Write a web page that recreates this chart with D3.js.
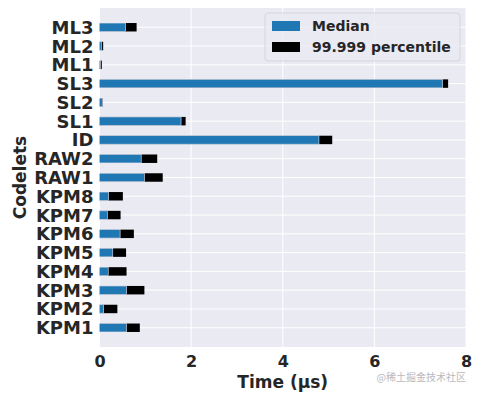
<!DOCTYPE html>
<html>
<head>
<meta charset="utf-8">
<script src="https://cdn.jsdelivr.net/npm/d3@7"></script>
<style>
  body { margin: 0; background: #fff; }
  text { font-family: "DejaVu Sans", sans-serif; font-weight: bold; fill: #262626; }
</style>
</head>
<body>
<div id="chart"></div>
<script>
const codelets = ["ML3", "ML2", "ML1", "SL3", "SL2", "SL1", "ID", "RAW2", "RAW1",
  "KPM8", "KPM7", "KPM6", "KPM5", "KPM4", "KPM3", "KPM2", "KPM1"];
const median = [0.57, 0.04, 0.02, 7.49, 0.06, 1.78, 4.79, 0.91, 0.98,
  0.2, 0.17, 0.45, 0.29, 0.19, 0.59, 0.09, 0.59];
const p99999 = [0.81, 0.08, 0.05, 7.61, 0.07, 1.88, 5.08, 1.26, 1.38,
  0.51, 0.46, 0.75, 0.58, 0.59, 0.98, 0.39, 0.88];
const xTicks = [0, 2, 4, 6, 8];

const width = 478, height = 395;
const margin = { top: 8, right: 12, bottom: 48, left: 99.5 };
const innerW = width - margin.left - margin.right;
const innerH = height - margin.top - margin.bottom;

const svg = d3.select("#chart").append("svg")
  .attr("width", width)
  .attr("height", height);

const g = svg.append("g")
  .attr("transform", "translate(" + margin.left + "," + margin.top + ")");

const x = d3.scaleLinear().domain([0, 8]).range([0, innerW]);
const y = d3.scaleBand().domain(codelets).range([0, innerH])
  .paddingInner(0.55).paddingOuter(0.8);

g.append("rect")
  .attr("width", innerW)
  .attr("height", innerH)
  .attr("fill", "#eaeaf2");

// grid
g.selectAll(".vgrid").data(xTicks).enter().append("line")
  .attr("x1", d => x(d)).attr("x2", d => x(d))
  .attr("y1", 0).attr("y2", innerH)
  .attr("stroke", "#fff").attr("stroke-width", 1);
g.selectAll(".hgrid").data(codelets).enter().append("line")
  .attr("x1", 0).attr("x2", innerW)
  .attr("y1", d => y(d) + y.bandwidth() / 2)
  .attr("y2", d => y(d) + y.bandwidth() / 2)
  .attr("stroke", "#fff").attr("stroke-width", 1);

const rows = codelets.map((c, i) => ({ name: c, med: median[i], p: p99999[i] }));

g.selectAll(".pbar").data(rows).enter().append("rect")
  .attr("x", 0)
  .attr("y", d => y(d.name))
  .attr("width", d => x(d.p))
  .attr("height", y.bandwidth())
  .attr("fill", "#000");

g.selectAll(".mbar").data(rows).enter().append("rect")
  .attr("x", 0)
  .attr("y", d => y(d.name))
  .attr("width", d => x(d.med))
  .attr("height", y.bandwidth())
  .attr("fill", "#1f77b4")
  .attr("stroke", "#eaeaf2")
  .attr("stroke-width", 0.6);

// axes
const xAxis = g.append("g")
  .attr("transform", "translate(0," + innerH + ")")
  .call(d3.axisBottom(x).tickValues(xTicks).tickSize(0).tickPadding(9));
xAxis.select(".domain").remove();
xAxis.selectAll("text").style("font-size", "16px").attr("fill", "#262626");

const yAxis = g.append("g")
  .call(d3.axisLeft(y).tickSize(0).tickPadding(6));
yAxis.select(".domain").remove();
yAxis.selectAll("text").style("font-size", "18px").attr("fill", "#262626")
  .attr("dy", "0.36em");

svg.append("text")
  .attr("x", margin.left + innerW / 2)
  .attr("y", 388)
  .attr("text-anchor", "middle")
  .style("font-size", "17px")
  .text("Time (μs)");

svg.append("text")
  .attr("transform", "translate(26," + (margin.top + innerH / 2) + ") rotate(-90)")
  .attr("text-anchor", "middle")
  .style("font-size", "17px")
  .text("Codelets");

// legend
const legend = svg.append("g").attr("transform", "translate(265,13)");
legend.append("rect")
  .attr("width", 195).attr("height", 48).attr("rx", 3)
  .attr("fill", "#eaeaf2").attr("fill-opacity", 0.8)
  .attr("stroke", "#d5d5dc").attr("stroke-width", 1);
const legendItems = [{ label: "Median", color: "#1f77b4" }, { label: "99.999 percentile", color: "#000" }];
const li = legend.selectAll(".li").data(legendItems).enter().append("g")
  .attr("transform", (d, i) => "translate(7," + (13 + i * 21) + ")");
li.append("rect").attr("x", 0).attr("y", -5).attr("width", 28).attr("height", 10)
  .attr("fill", d => d.color);
li.append("text").attr("x", 40).attr("y", 5)
  .style("font-size", "14px")
  .text(d => d.label);

svg.append("text")
  .attr("x", 466).attr("y", 381)
  .attr("text-anchor", "end")
  .style("font-size", "10px").style("font-weight", "normal")
  .style("fill", "#b8b8c0")
  .style("font-family", "'Noto Sans CJK SC', sans-serif")
  .text("@稀土掘金技术社区");
</script>
</body>
</html>
